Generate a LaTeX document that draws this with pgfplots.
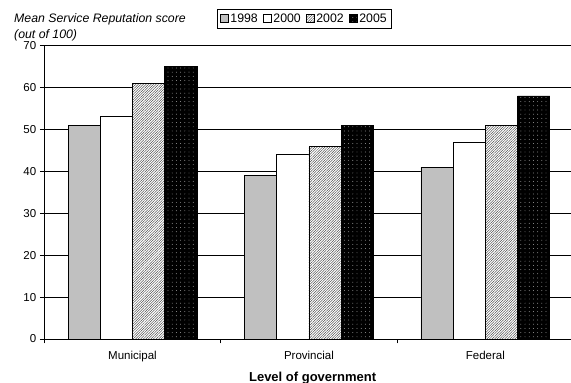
\documentclass[border=0pt]{standalone}
\usepackage{fontspec}
\setmainfont{Liberation Sans}
\usepackage{pgfplots}
\pgfplotsset{compat=1.18}
\usetikzlibrary{patterns.meta}
\definecolor{barGray}{HTML}{C0C0C0}
\begin{document}
\begin{tikzpicture}[x=1pt,y=1pt]
\useasboundingbox (0,0) rectangle (571,383);
\node[anchor=west,inner sep=0pt,font=\fontsize{12.3}{14}\selectfont\itshape] at (14,364) {Mean Service Reputation score};
\node[anchor=west,inner sep=0pt,font=\fontsize{12.3}{14}\selectfont\itshape] at (14,348) {(out of 100)};
\begin{axis}[
  at={(44.3pt,44pt)}, anchor=south west, scale only axis,
  width=529.3pt, height=293.5pt,
  xmin=0, xmax=3, ymin=0, ymax=70,
  ybar=0pt, bar width=32.2pt,
  axis lines=left, axis line style={-, line width=0.8pt, black},
  xtick={0,1,2,3}, xticklabels={Municipal,Provincial,Federal},
  x tick label as interval,
  ytick={0,10,...,70},
  tick align=outside, major tick length=4.5pt,
  tick style={black, line width=0.7pt},
  ymajorgrids, grid style={black, line width=0.6pt},
  /pgf/number format/assume math mode=true,
  tick label style={font=\fontsize{11.5}{13}\selectfont},
  xticklabel style={yshift=-4pt},
  xlabel={Level of government},
  xlabel style={font=\fontsize{13}{15}\selectfont\bfseries, at={(axis description cs:0.507,0)}, anchor=center, yshift=-38.7pt},
  legend columns=4,
  legend style={at={(axis description cs:0.3263,1.1244)}, anchor=north west, draw=black, line width=0.7pt,
    font=\fontsize{12.3}{14}\selectfont, inner sep=2.5pt,
    /tikz/every even column/.append style={column sep=3pt}},
  mybar/.style={draw=black, line width=0.6pt,
    legend image code/.code={\draw[##1] (0pt,-3.5pt) rectangle (8pt,4.5pt);}},
]
\addplot[mybar, fill=barGray] coordinates {(0.5,51) (1.5,39) (2.5,41)};
\addplot[mybar, fill=white] coordinates {(0.5,53) (1.5,44) (2.5,47)};
\addplot[mybar, preaction={fill=white}, pattern={Lines[angle=45,distance=1.8pt,line width=0.35pt]}, pattern color=black!85] coordinates {(0.5,61) (1.5,46) (2.5,51)};
\addplot[mybar, preaction={fill=black}, pattern={Dots[radius=0.45pt,distance=4.2pt]}, pattern color=gray!60] coordinates {(0.5,65) (1.5,51) (2.5,58)};
\legend{1998,2000,2002,2005}
\end{axis}
\end{tikzpicture}
\end{document}
